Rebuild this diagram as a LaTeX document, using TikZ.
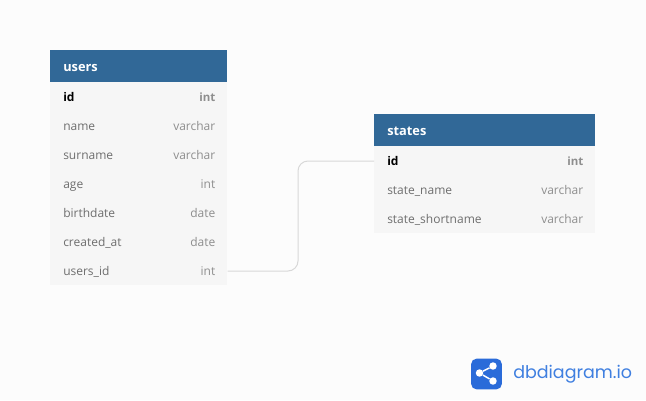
\documentclass[tikz,border=0pt]{standalone}
\usepackage{fontspec}
\setmainfont{Open Sans}
\newfontfamily\logofont{Poppins}
\usetikzlibrary{positioning}
\definecolor{pagebg}{HTML}{FCFCFC}
\definecolor{headblue}{HTML}{316897}
\definecolor{rowbg}{HTML}{F6F6F6}
\definecolor{namegray}{HTML}{6E6E6E}
\definecolor{typegray}{HTML}{8E8E8E}
\definecolor{linkgray}{HTML}{D8D8D8}
\definecolor{logoblue}{HTML}{2A6BD9}
\definecolor{logolight}{HTML}{3479E2}
\definecolor{logotext}{HTML}{3F7FE0}
\tikzset{
  tablehead/.style={fill=headblue,anchor=north west,minimum height=24pt,inner sep=0pt},
  tabletitle/.style={anchor=west,text=white,font=\fontsize{9.6}{11}\selectfont\bfseries,inner sep=0pt,xshift=9.75pt,yshift=-1.1pt,text height=7pt,text depth=2pt},
  tablebody/.style={fill=rowbg,anchor=north west,inner sep=0pt},
  tablerow/.style={anchor=west,minimum height=21.75pt,inner sep=0pt},
  fieldname/.style={anchor=west,text=namegray,font=\fontsize{9}{11}\selectfont,inner sep=0pt,xshift=9.75pt,yshift=-0.8pt,text height=7pt,text depth=2pt},
  fieldtype/.style={anchor=east,text=typegray,font=\fontsize{9}{11}\selectfont,inner sep=0pt,xshift=-9pt,yshift=-0.8pt,text height=7pt,text depth=2pt},
  keyname/.style={fieldname,text=black,font=\fontsize{9}{11}\selectfont\bfseries},
  keytype/.style={fieldtype,font=\fontsize{8.6}{11}\selectfont\bfseries},
  reflink/.style={draw=linkgray,line width=0.75pt,rounded corners=7.5pt},
  logodot/.style={circle,fill=white,minimum size=5.6pt,inner sep=0pt}
}
\begin{document}
\begin{tikzpicture}[x=0.75pt,y=-0.75pt]
  \fill[pagebg] (0,0) rectangle (646,400);
  \useasboundingbox (0,0) rectangle (646,400);
  % users table
  \node[tablebody,minimum width=132.75pt,minimum height=152.25pt] (usersbody) at (50,82) {};
  \node[tablehead,minimum width=132.75pt] (usershead) at (50,50) {};
  \node[tabletitle] (userstitle) at (usershead.west) {users};
  \node[tablerow,minimum width=132.75pt] (users1) at (50,97) {};
  \node[keyname] (users1name) at (users1.west) {id};
  \node[keytype] (users1type) at (users1.east) {int};
  \foreach \i/\y/\n/\t in {2/126/name/varchar,3/155/surname/varchar,4/184/age/int,5/213/birthdate/date,6/242/created\_at/date,7/271/users\_id/int}{
    \node[tablerow,minimum width=132.75pt] (users\i) at (50,\y) {};
    \node[fieldname] (users\i name) at (users\i.west) {\n};
    \node[fieldtype] (users\i type) at (users\i.east) {\t};
  }
  % states table
  \node[tablebody,minimum width=165.75pt,minimum height=65.25pt] (statesbody) at (374,146) {};
  \node[tablehead,minimum width=165.75pt] (stateshead) at (374,114) {};
  \node[tabletitle] (statestitle) at (stateshead.west) {states};
  \node[tablerow,minimum width=165.75pt] (states1) at (374,161) {};
  \node[keyname] (states1name) at (states1.west) {id};
  \node[keytype] (states1type) at (states1.east) {int};
  \foreach \i/\y/\n/\t in {2/190/state\_name/varchar,3/219/state\_shortname/varchar}{
    \node[tablerow,minimum width=165.75pt] (states\i) at (374,\y) {};
    \node[fieldname] (states\i name) at (states\i.west) {\n};
    \node[fieldtype] (states\i type) at (states\i.east) {\t};
  }
  % reference
  \coordinate (bendx) at (298,200);
  \draw[reflink] (users7.east) -| (bendx) |- (states1.west);
  % logo
  \node[fill=logoblue,rounded corners=4pt,minimum size=23pt,inner sep=0pt] (logobox) at (486.5,374) {};
  \node[logodot] (dotleft) at (479.5,373) {};
  \node[logodot] (dotup) at (493,366) {};
  \node[logodot] (dotdown) at (493,381) {};
  \draw[white,line width=1.1pt] (dotup) -- (dotleft) -- (dotdown);
  \node[anchor=west,inner sep=0pt,text=logotext,font=\logofont\fontsize{13.1}{16}\selectfont] (logoname) at (513,374.5) {dbdiagram.io};
\end{tikzpicture}
\end{document}
